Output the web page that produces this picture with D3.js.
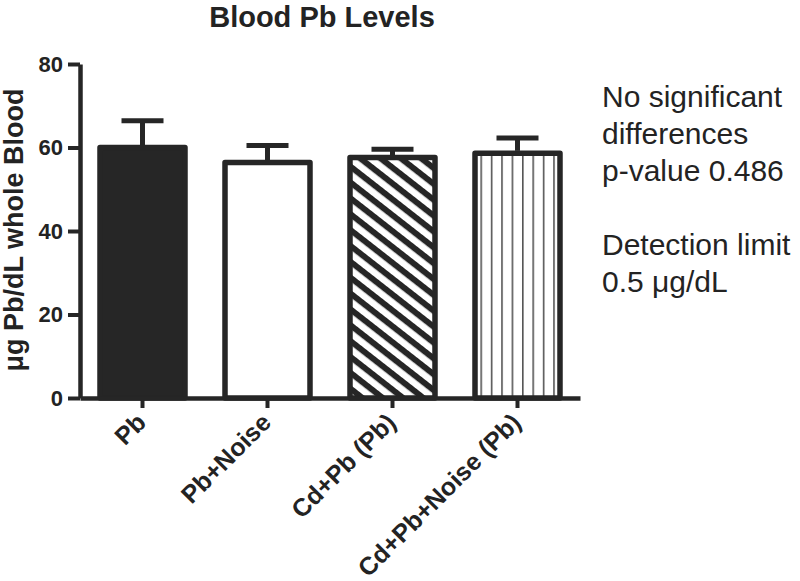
<!DOCTYPE html>
<html>
<head>
<meta charset="utf-8">
<script src="https://cdn.jsdelivr.net/npm/d3@7"></script>
<style>
  body { margin: 0; background: #fff; }
  svg { display: block; }
  text { font-family: "Liberation Sans", Arial, sans-serif; fill: #232323; }
</style>
</head>
<body>
<script>
// data
const groups = ["Pb", "Pb+Noise", "Cd+Pb (Pb)", "Cd+Pb+Noise (Pb)"];
const means = [60.0, 56.4, 57.6, 58.6];
const sems = [6.4, 4.1, 2.0, 3.7];
const fills = ["solid", "white", "diag", "vert"];
const yTicks = [0, 20, 40, 60, 80];
const notes = ["No significant", "differences", "p-value 0.486", "", "Detection limit", "0.5 \u03bcg/dL"];

const width = 800, height = 581;
const ink = "#262626";

const svg = d3.select("body").append("svg")
    .attr("width", width)
    .attr("height", height);

const defs = svg.append("defs");

// diagonal hatch
const diag = defs.append("pattern")
    .attr("id", "diag")
    .attr("patternUnits", "userSpaceOnUse")
    .attr("width", 12.5).attr("height", 12.5)
    .attr("patternTransform", "rotate(38)");
diag.append("rect").attr("width", 12.5).attr("height", 12.5).attr("fill", "#fff");
diag.append("rect").attr("width", 12.5).attr("height", 6).attr("fill", ink);

// thin vertical lines
const vert = defs.append("pattern")
    .attr("id", "vert")
    .attr("patternUnits", "userSpaceOnUse")
    .attr("x", 2)
    .attr("width", 10.4).attr("height", 20);
vert.append("rect").attr("width", 10.4).attr("height", 20).attr("fill", "#fff");
vert.append("rect").attr("x", 0).attr("width", 1.6).attr("height", 20).attr("fill", "#555");

const x = d3.scaleBand()
    .domain(groups)
    .range([80, 580])
    .paddingInner(0.32)
    .paddingOuter(0.16);

const y = d3.scaleLinear()
    .domain([0, 80])
    .range([398, 64]);

function fillOf(f) {
    if (f == "solid") return ink;
    if (f == "white") return "#fff";
    return "url(#" + f + ")";
}

// bars
svg.selectAll("rect.bar")
    .data(groups)
    .enter()
    .append("rect")
    .attr("class", "bar")
    .attr("x", d => x(d))
    .attr("y", (d, i) => y(means[i]))
    .attr("width", x.bandwidth())
    .attr("height", (d, i) => y(0) - y(means[i]))
    .attr("fill", (d, i) => fillOf(fills[i]))
    .attr("stroke", ink)
    .attr("stroke-width", 5.5)
    .attr("stroke-linejoin", "round");

// error bars (upper only)
const err = svg.selectAll("g.err")
    .data(groups)
    .enter()
    .append("g")
    .attr("class", "err")
    .attr("transform", d => "translate(" + (x(d) + x.bandwidth() / 2) + ",0)");

err.append("line")
    .attr("y1", (d, i) => y(means[i]) - 2.5)
    .attr("y2", (d, i) => y(means[i] + sems[i]))
    .attr("stroke", ink)
    .attr("stroke-width", 5);

err.append("line")
    .attr("x1", -21).attr("x2", 21)
    .attr("y1", (d, i) => y(means[i] + sems[i]))
    .attr("y2", (d, i) => y(means[i] + sems[i]))
    .attr("stroke", ink)
    .attr("stroke-width", 5);

// y axis
const yAxis = svg.append("g")
    .attr("transform", "translate(80,0)")
    .call(d3.axisLeft(y).tickValues(yTicks).tickSize(12).tickSizeOuter(0).tickPadding(5));
yAxis.select(".domain").attr("stroke", ink).attr("stroke-width", 4.5);
yAxis.selectAll(".tick line").attr("stroke", ink).attr("stroke-width", 4);
yAxis.selectAll(".tick text")
    .style("font-size", "22px")
    .style("font-weight", "bold")
    .attr("fill", "#232323");

// x axis
const xAxis = svg.append("g")
    .attr("transform", "translate(0,398)")
    .call(d3.axisBottom(x).tickSize(10).tickSizeOuter(0));
xAxis.select(".domain").attr("stroke", ink).attr("stroke-width", 4.5);
xAxis.selectAll(".tick line").attr("stroke", ink).attr("stroke-width", 4);
xAxis.selectAll(".tick text")
    .attr("y", null).attr("dy", null)
    .attr("transform", "translate(5,26) rotate(-45)")
    .attr("text-anchor", "end")
    .style("font-size", "25px")
    .style("font-weight", "bold")
    .attr("fill", "#232323");

// title
svg.append("text")
    .attr("x", 322)
    .attr("y", 27)
    .attr("text-anchor", "middle")
    .style("font-size", "29px")
    .style("font-weight", "bold")
    .text("Blood Pb Levels");

// y label
svg.append("text")
    .attr("transform", "translate(23,230) rotate(-90)")
    .attr("text-anchor", "middle")
    .style("font-size", "27px")
    .style("font-weight", "bold")
    .text("\u03bcg Pb/dL whole Blood");

// notes on the right
svg.selectAll("text.note")
    .data(notes)
    .enter()
    .append("text")
    .attr("class", "note")
    .attr("x", 602)
    .attr("y", (d, i) => 107 + i * 37)
    .style("font-size", "30px")
    .text(d => d);
</script>
</body>
</html>
